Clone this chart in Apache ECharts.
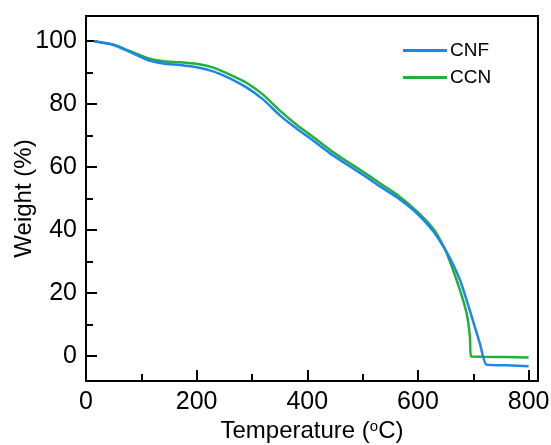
<!DOCTYPE html>
<html>
<head>
<meta charset="utf-8">
<script src="https://cdn.jsdelivr.net/npm/echarts@6/dist/echarts.min.js"></script>
<style>
  html, body { margin: 0; padding: 0; background: #fff; }
  #chart { width: 551px; height: 445px; }
</style>
</head>
<body>
<div id="chart"></div>
<script>
// temperature (°C) / weight (%)
var cnfTemp = [15, 50, 80, 110, 140, 170, 200, 230, 260, 290, 320, 350, 380, 410, 440, 470, 500, 530, 560, 598, 628, 646, 658, 676, 688, 700, 712, 724, 760, 800];
var cnfWeight = [100, 98.8, 96.5, 94.1, 92.9, 92.4, 91.7, 90.4, 88.2, 85.3, 81.5, 76.5, 72.3, 68.5, 64.5, 61.0, 57.6, 54.0, 50.6, 45.3, 39.5, 34.7, 31.0, 24.1, 17.7, 10.8, 3.9, -2.8, -3.0, -3.3];

var ccnTemp = [15, 50, 80, 110, 140, 170, 200, 230, 260, 290, 320, 350, 380, 410, 440, 470, 500, 530, 560, 598, 628, 646, 658, 676, 688, 694, 696, 720, 760, 800];
var ccnWeight = [100, 98.9, 96.8, 94.7, 93.6, 93.3, 92.8, 91.6, 89.4, 86.8, 83.0, 78.0, 73.5, 69.6, 65.6, 62.0, 58.6, 55.0, 51.5, 45.9, 40.3, 34.9, 29.9, 20.9, 13.5, 6.0, -0.2, -0.3, -0.4, -0.5];

var xMajor = [0, 200, 400, 600, 800];
var xMinor = [100, 300, 500, 700];
var yMajor = [0, 20, 40, 60, 80, 100];
var yMinor = [10, 30, 50, 70, 90];

function pairs (xs, ys) {
  var out = [];
  for (var i = 0; i < xs.length; i++) out.push([xs[i], ys[i]]);
  return out;
}

var font = 'Liberation Sans, Arial, sans-serif';
var black = '#000';
var blue = '#1e86e8';
var green = '#22b03c';

var xBase = { type: 'value', min: 0, max: 817, position: 'bottom', splitLine: { show: false } };
var yBase = { type: 'value', min: -8, max: 108, position: 'left', splitLine: { show: false } };

var chart = echarts.init(document.getElementById('chart'));
chart.setOption({
  backgroundColor: '#fff',
  animation: false,
  grid: {
    left: 86, right: 13, top: 16, bottom: 64,
    outerBoundsMode: 'none',
    containLabel: false,
    show: true, borderColor: black, borderWidth: 2, backgroundColor: 'transparent'
  },
  legend: {
    orient: 'vertical',
    left: 398, top: 36,
    icon: 'rect',
    itemWidth: 44, itemHeight: 3, itemGap: 8,
    data: ['CNF', 'CCN'],
    textStyle: { fontSize: 19, color: black, fontFamily: font, padding: [0, 0, 0, -2] }
  },
  xAxis: [
    Object.assign({}, xBase, {
      axisLine: { onZero: false, lineStyle: { color: black, width: 2 } },
      axisTick: { inside: true, length: 11, lineStyle: { color: black, width: 2 }, customValues: xMajor },
      axisLabel: { customValues: xMajor, fontSize: 25, color: black, fontFamily: font, margin: 9 },
      name: 'Temperature ({sup|o}C)',
      nameLocation: 'middle',
      nameGap: 38,
      nameMoveOverlap: false,
      nameTextStyle: {
        fontSize: 24, color: black, fontFamily: font,
        rich: { sup: { fontSize: 15, color: black, fontFamily: font, padding: [0, 0, 10, 0] } }
      }
    }),
    Object.assign({}, xBase, {
      axisLine: { show: false, onZero: false },
      axisTick: { inside: true, length: 7, lineStyle: { color: black, width: 2 }, customValues: xMinor },
      axisLabel: { show: false }
    })
  ],
  yAxis: [
    Object.assign({}, yBase, {
      axisLine: { show: true, onZero: false, lineStyle: { color: black, width: 2 } },
      axisTick: { show: true, inside: true, length: 11, lineStyle: { color: black, width: 2 }, customValues: yMajor },
      axisLabel: { customValues: yMajor, fontSize: 25, color: black, fontFamily: font, margin: 9 },
      name: 'Weight (%)',
      nameLocation: 'middle',
      nameGap: 50,
      nameMoveOverlap: false,
      nameTextStyle: { fontSize: 24, color: black, fontFamily: font }
    }),
    Object.assign({}, yBase, {
      axisLine: { show: false, onZero: false },
      axisTick: { show: true, inside: true, length: 7, lineStyle: { color: black, width: 2 }, customValues: yMinor },
      axisLabel: { show: false }
    })
  ],
  series: [
    {
      name: 'CCN',
      type: 'line',
      data: pairs(ccnTemp, ccnWeight),
      symbol: 'none',
      smooth: 0.2,
      lineStyle: { color: green, width: 2.5 },
      itemStyle: { color: green }
    },
    {
      name: 'CNF',
      type: 'line',
      data: pairs(cnfTemp, cnfWeight),
      symbol: 'none',
      smooth: 0.2,
      lineStyle: { color: blue, width: 2.5 },
      itemStyle: { color: blue }
    }
  ]
});
</script>
</body>
</html>
